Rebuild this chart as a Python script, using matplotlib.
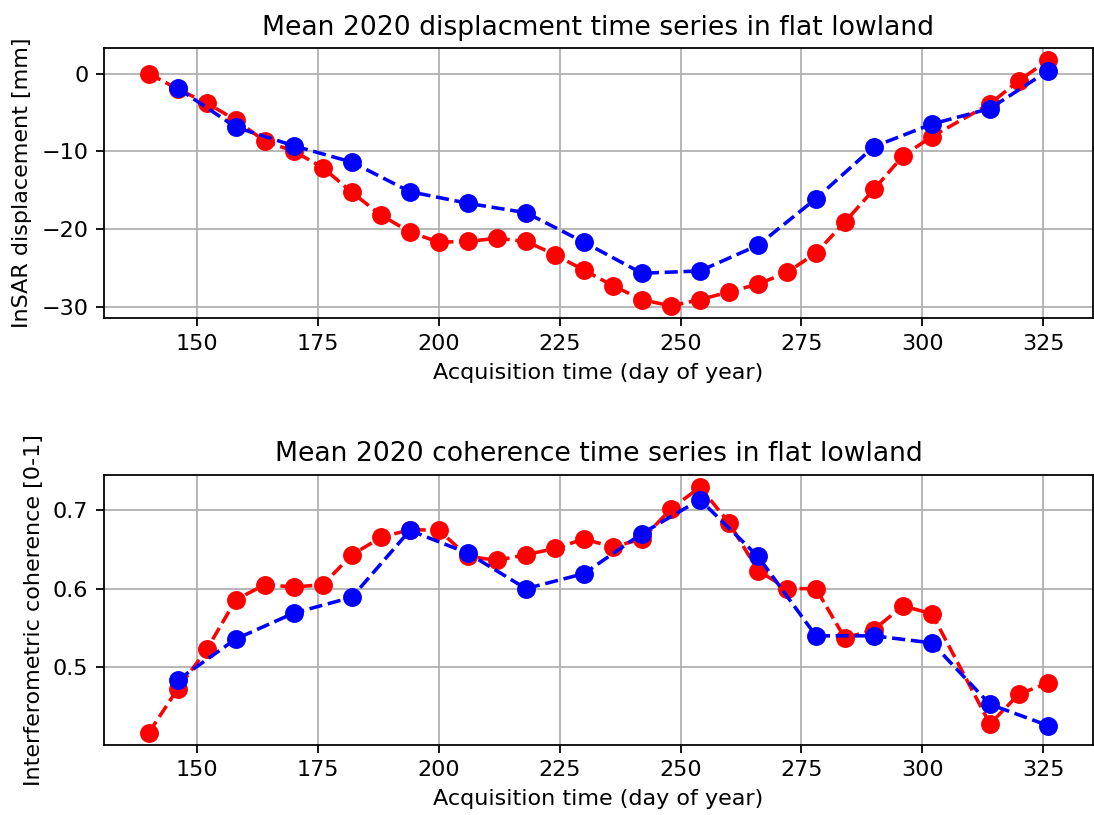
import numpy as np
import matplotlib
matplotlib.use("Agg")
import matplotlib.pyplot as plt

# acquisition days (day of year)
days_red = [140, 146, 152, 158, 164, 170, 176, 182, 188, 194, 200, 206, 212, 218, 224,
            230, 236, 242, 248, 254, 260, 266, 272, 278, 284, 290, 296, 302, 314, 320, 326]
days_blue = [146, 158, 170, 182, 194, 206, 218, 230, 242, 254, 266, 278, 290, 302, 314, 326]

# mean displacement [mm]
disp_red = [0.0, -2.0, -3.8, -6.0, -8.7, -10.0, -12.1, -15.3, -18.2, -20.4, -21.7, -21.6,
            -21.2, -21.6, -23.3, -25.3, -27.3, -29.1, -29.9, -29.1, -28.1, -27.1, -25.6,
            -23.1, -19.1, -14.9, -10.6, -8.1, -3.9, -0.9, 1.7]
disp_blue = [-1.9, -6.9, -9.3, -11.4, -15.2, -16.7, -17.9, -21.7, -25.7, -25.4, -22.1,
             -16.1, -9.4, -6.5, -4.5, 0.35]

# mean coherence [0-1]
coh_red = [0.417, 0.473, 0.523, 0.586, 0.605, 0.602, 0.605, 0.643, 0.665, 0.675, 0.674,
           0.641, 0.636, 0.643, 0.651, 0.663, 0.653, 0.663, 0.701, 0.729, 0.684, 0.623,
           0.600, 0.600, 0.537, 0.548, 0.578, 0.568, 0.428, 0.466, 0.480]
coh_blue = [0.484, 0.536, 0.569, 0.589, 0.674, 0.645, 0.600, 0.619, 0.670, 0.713, 0.641,
            0.540, 0.540, 0.531, 0.453, 0.426]

fig, axes = plt.subplots(nrows=2, ncols=1, figsize=(6.8375, 5.09375), dpi=160)

style = dict(linestyle="--", marker="o", markersize=7.5, linewidth=1.6)

ax = axes[0]
ax.plot(days_red, disp_red, color="red", **style)
ax.plot(days_blue, disp_blue, color="blue", **style)
ax.set_title("Mean 2020 displacment time series in flat lowland")
ax.set_xlabel("Acquisition time (day of year)")
ax.set_ylabel("InSAR displacement [mm]")
ax.grid(True)

ax = axes[1]
ax.plot(days_red, coh_red, color="red", **style)
ax.plot(days_blue, coh_blue, color="blue", **style)
ax.set_title("Mean 2020 coherence time series in flat lowland")
ax.set_xlabel("Acquisition time (day of year)")
ax.set_ylabel("Interferometric coherence [0-1]")
ax.grid(True)

plt.subplots_adjust(left=0.095, right=0.999, top=0.941, bottom=0.086, hspace=0.58)
plt.savefig("out.png")
